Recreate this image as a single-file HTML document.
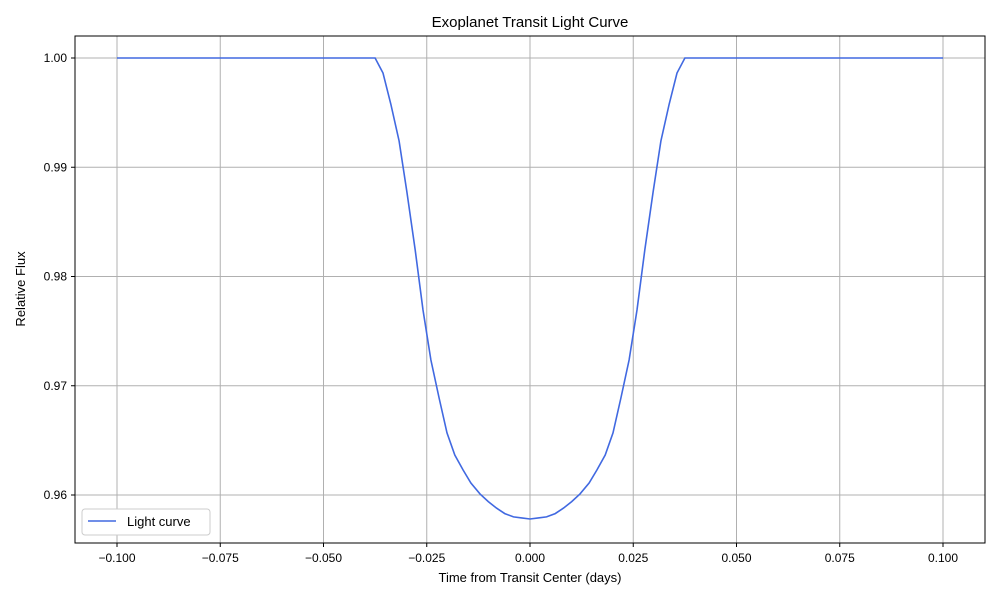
<!DOCTYPE html>
<html><head><meta charset="utf-8"><style>
body{margin:0;background:#fff;}
svg text{font-family:"Liberation Sans","DejaVu Sans",sans-serif;fill:#000;}
</style></head><body>
<svg id="chart" width="1000" height="600" xmlns="http://www.w3.org/2000/svg">
<rect width="1000" height="600" fill="#fff"/>
<g id="grid"></g>
<g id="ticks"></g>
<path id="curve" fill="none" stroke="#4169e1" stroke-width="1.6"/>
<rect x="75" y="36" width="910" height="507" fill="none" stroke="#000" stroke-width="1"/>
<text x="530" y="27" font-size="15" text-anchor="middle">Exoplanet Transit Light Curve</text>
<text x="530" y="582" font-size="13" text-anchor="middle">Time from Transit Center (days)</text>
<text x="25" y="289" font-size="13" text-anchor="middle" transform="rotate(-90 25 289)">Relative Flux</text>
<g>
<rect x="82" y="509" width="128" height="26" fill="#fff" stroke="#ccc" rx="3"/>
<line x1="88" y1="521" x2="116" y2="521" stroke="#4169e1" stroke-width="1.6"/>
<text x="127" y="526" font-size="13">Light curve</text>
</g>
</svg>
<script>
const xVals=[-0.1,-0.0375,-0.0356,-0.0337,-0.0317,-0.0298,-0.0278,-0.0259,-0.024,-0.022,-0.0201,-0.0182,-0.0162,-0.0143,-0.0121,-0.0101,-0.0081,-0.0061,-0.004,-0.002,0,0.002,0.004,0.0061,0.0081,0.0101,0.0121,0.0143,0.0162,0.0182,0.0201,0.022,0.024,0.0259,0.0278,0.0298,0.0317,0.0337,0.0356,0.0375,0.1];
const fluxVals=[1,1,0.99863,0.99579,0.9924,0.98773,0.98243,0.97693,0.97236,0.96888,0.96568,0.96366,0.96229,0.9611,0.9601,0.9594,0.9588,0.9583,0.958,0.9579,0.9578,0.9579,0.958,0.9583,0.9588,0.9594,0.9601,0.9611,0.96229,0.96366,0.96568,0.96888,0.97236,0.97693,0.98243,0.98773,0.9924,0.99579,0.99863,1,1];
const xTicks=[-0.1,-0.075,-0.05,-0.025,0,0.025,0.05,0.075,0.1];
const xTickLabels=["−0.100","−0.075","−0.050","−0.025","0.000","0.025","0.050","0.075","0.100"];
const yTicks=[0.96,0.97,0.98,0.99,1.0];
const yTickLabels=["0.96","0.97","0.98","0.99","1.00"];
const xs=v=>530+v*4130;
const ys=v=>58+(1-v)*10925;
const NS="http://www.w3.org/2000/svg";
const grid=document.getElementById('grid'),ticks=document.getElementById('ticks');
function mk(t,a,p){const e=document.createElementNS(NS,t);for(const k in a)e.setAttribute(k,a[k]);p.appendChild(e);return e;}
xTicks.forEach((v,i)=>{const x=xs(v);
const g=mk('line',{x1:x,x2:x,y1:36,y2:543,stroke:'#b0b0b0','stroke-width':1},grid);

mk('line',{x1:x,x2:x,y1:543,y2:547,stroke:'#000'},ticks);
const t=mk('text',{x:x,y:562,'font-size':12,'text-anchor':'middle'},ticks);t.textContent=xTickLabels[i];
});
yTicks.forEach((v,i)=>{const y=ys(v);
const g=mk('line',{x1:75,x2:985,y1:y,y2:y,stroke:'#b0b0b0','stroke-width':1},grid);

mk('line',{x1:71,x2:75,y1:y,y2:y,stroke:'#000'},ticks);
const t=mk('text',{x:67,y:y+4,'font-size':12,'text-anchor':'end'},ticks);t.textContent=yTickLabels[i];
});
document.getElementById('curve').setAttribute('d',xVals.map((v,i)=>(i?'L':'M')+xs(v).toFixed(1)+' '+ys(fluxVals[i]).toFixed(1)).join(' '));
</script>
</body></html>
